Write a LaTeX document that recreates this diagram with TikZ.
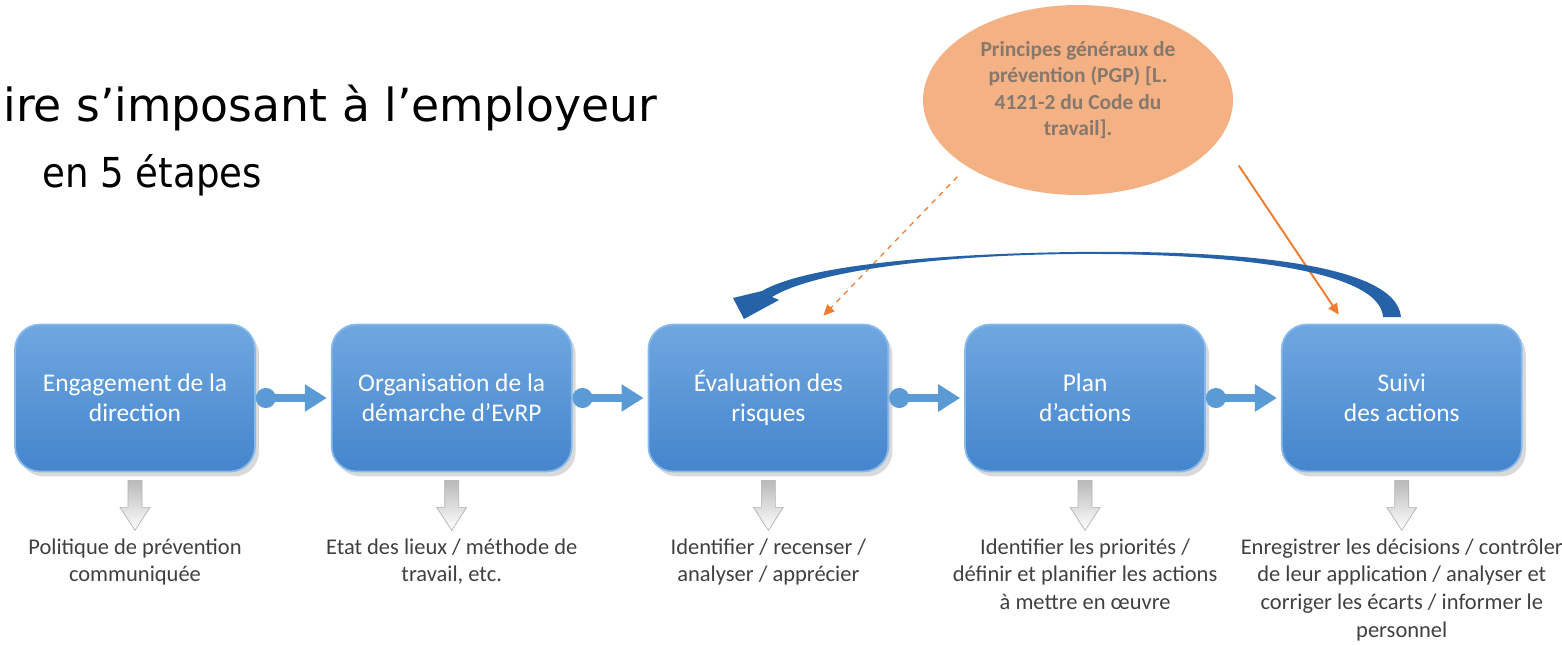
\documentclass[tikz,border=0pt]{standalone}
\usepackage{fontspec}
\setmainfont{Carlito}
\newfontfamily\titlefont{DejaVu Sans}
\newfontfamily\subfont[FakeStretch=0.9]{DejaVu Sans}
\usetikzlibrary{arrows.meta,calc,positioning,shapes.geometric,shadows}
\definecolor{stepblue}{RGB}{91,155,213}
\definecolor{steptop}{RGB}{112,167,224}
\definecolor{stepbot}{RGB}{68,133,204}
\definecolor{stepedge}{RGB}{135,185,235}
\definecolor{loopblue}{RGB}{38,98,168}
\definecolor{pgporange}{RGB}{244,177,131}
\definecolor{pgptext}{RGB}{135,120,110}
\definecolor{lineorange}{RGB}{237,125,49}
\definecolor{notegray}{RGB}{64,64,64}

\begin{document}
\begin{tikzpicture}[x=0.02cm,y=-0.02cm,
  stepbox/.style={rectangle, rounded corners=0.5cm, minimum width=4.8cm, minimum height=2.94cm,
    top color=steptop, bottom color=stepbot, draw=stepedge, line width=1pt,
    drop shadow={opacity=0.3, shadow xshift=0.08cm, shadow yshift=-0.1cm},
    text=white, align=center, font=\fontsize{14.5}{17}\selectfont},
  link/.style={stepblue, line width=0.16cm, {Circle[length=0.4cm]}-{Triangle[length=0.44cm,width=0.52cm]}, shorten >=0.08cm},
  note/.style={align=center, text=notegray, font=\fontsize{12.8}{15.8}\selectfont},
  downarrow/.style={draw=gray!60, top color=gray!55, bottom color=white},
  titletext/.style={anchor=base west, inner sep=0pt}]
  \useasboundingbox (0,0) rectangle (1562,645);

  % title
  \node[titletext, font=\titlefont\fontsize{26}{30}\selectfont] (title) at (3,122) {ire s’imposant à l’employeur};
  \node[titletext, font=\subfont\fontsize{23.5}{28}\selectfont] (sub) at (42,188) {en 5 étapes};

  % the five steps
  \node[stepbox] (b1) at (135,398) {Engagement de la\\direction};
  \node[stepbox, right=1.5cm of b1] (b2) {Organisation de la\\démarche d’EvRP};
  \node[stepbox, right=1.5cm of b2] (b3) {Évaluation des\\risques};
  \node[stepbox, right=1.5cm of b3] (b4) {Plan\\d’actions};
  \node[stepbox, right=1.5cm of b4] (b5) {Suivi\\des actions};
  \foreach \a/\b in {b1/b2,b2/b3,b3/b4,b4/b5}
    \draw[link] (\a) -- (\b);

  % what each step gives
  \foreach \i in {1,...,5}
    \draw[downarrow] ($(b\i.south)+(-7,8)$) -- ++(0,27) -- ++(-8,0) -- ++(15,23)
      -- ++(15,-23) -- ++(-8,0) -- ++(0,-27) -- cycle;
  \node[note, below=1.2cm of b1] (n1) {Politique de prévention\\communiquée};
  \node[note, below=1.2cm of b2] (n2) {Etat des lieux / méthode de\\travail, etc.};
  \node[note, below=1.2cm of b3] (n3) {Identifier / recenser /\\analyser / apprécier};
  \node[note, below=1.2cm of b4] (n4) {Identifier les priorités /\\définir et planifier les actions\\à mettre en œuvre};
  \node[note, below=1.2cm of b5] (n5) {Enregistrer les décisions / contrôler\\de leur application / analyser et\\corriger les écarts / informer le\\personnel};

  % principles
  \node[ellipse, fill=pgporange, minimum width=6.2cm, minimum height=3.8cm] (pgp) at (1078,100) {};
  \node[text=pgptext, align=center, font=\bfseries\fontsize{12.2}{15}\selectfont] (pgptxt) at (1078,90)
    {Principes généraux de\\prévention (PGP) [L.\\4121-2 du Code du\\travail].};
  \draw[lineorange, dashed, line width=0.7pt, -{Triangle[length=0.22cm,width=0.2cm]}, shorten <=0.28cm]
    (pgp.211) -- ($(b3.north)+(55,-8)$);
  \draw[lineorange, line width=1.1pt, -{Triangle[length=0.22cm,width=0.2cm]}, shorten <=0.66cm]
    (pgp.345) -- ($(b5.north)+(-63,-9)$);

  % loop back from follow-up to assessment
  \fill[loopblue] (1401,317) .. controls (1396,262) and (1230,250) .. (1075,252)
    .. controls (930,254) and (805,266) .. (762,291) -- (733,298) -- (744,319) -- (779,300)
    -- (772,297) .. controls (812,272) and (935,255) .. (1075,254)
    .. controls (1220,253) and (1380,268) .. (1383,317) -- cycle;
\end{tikzpicture}
\end{document}
